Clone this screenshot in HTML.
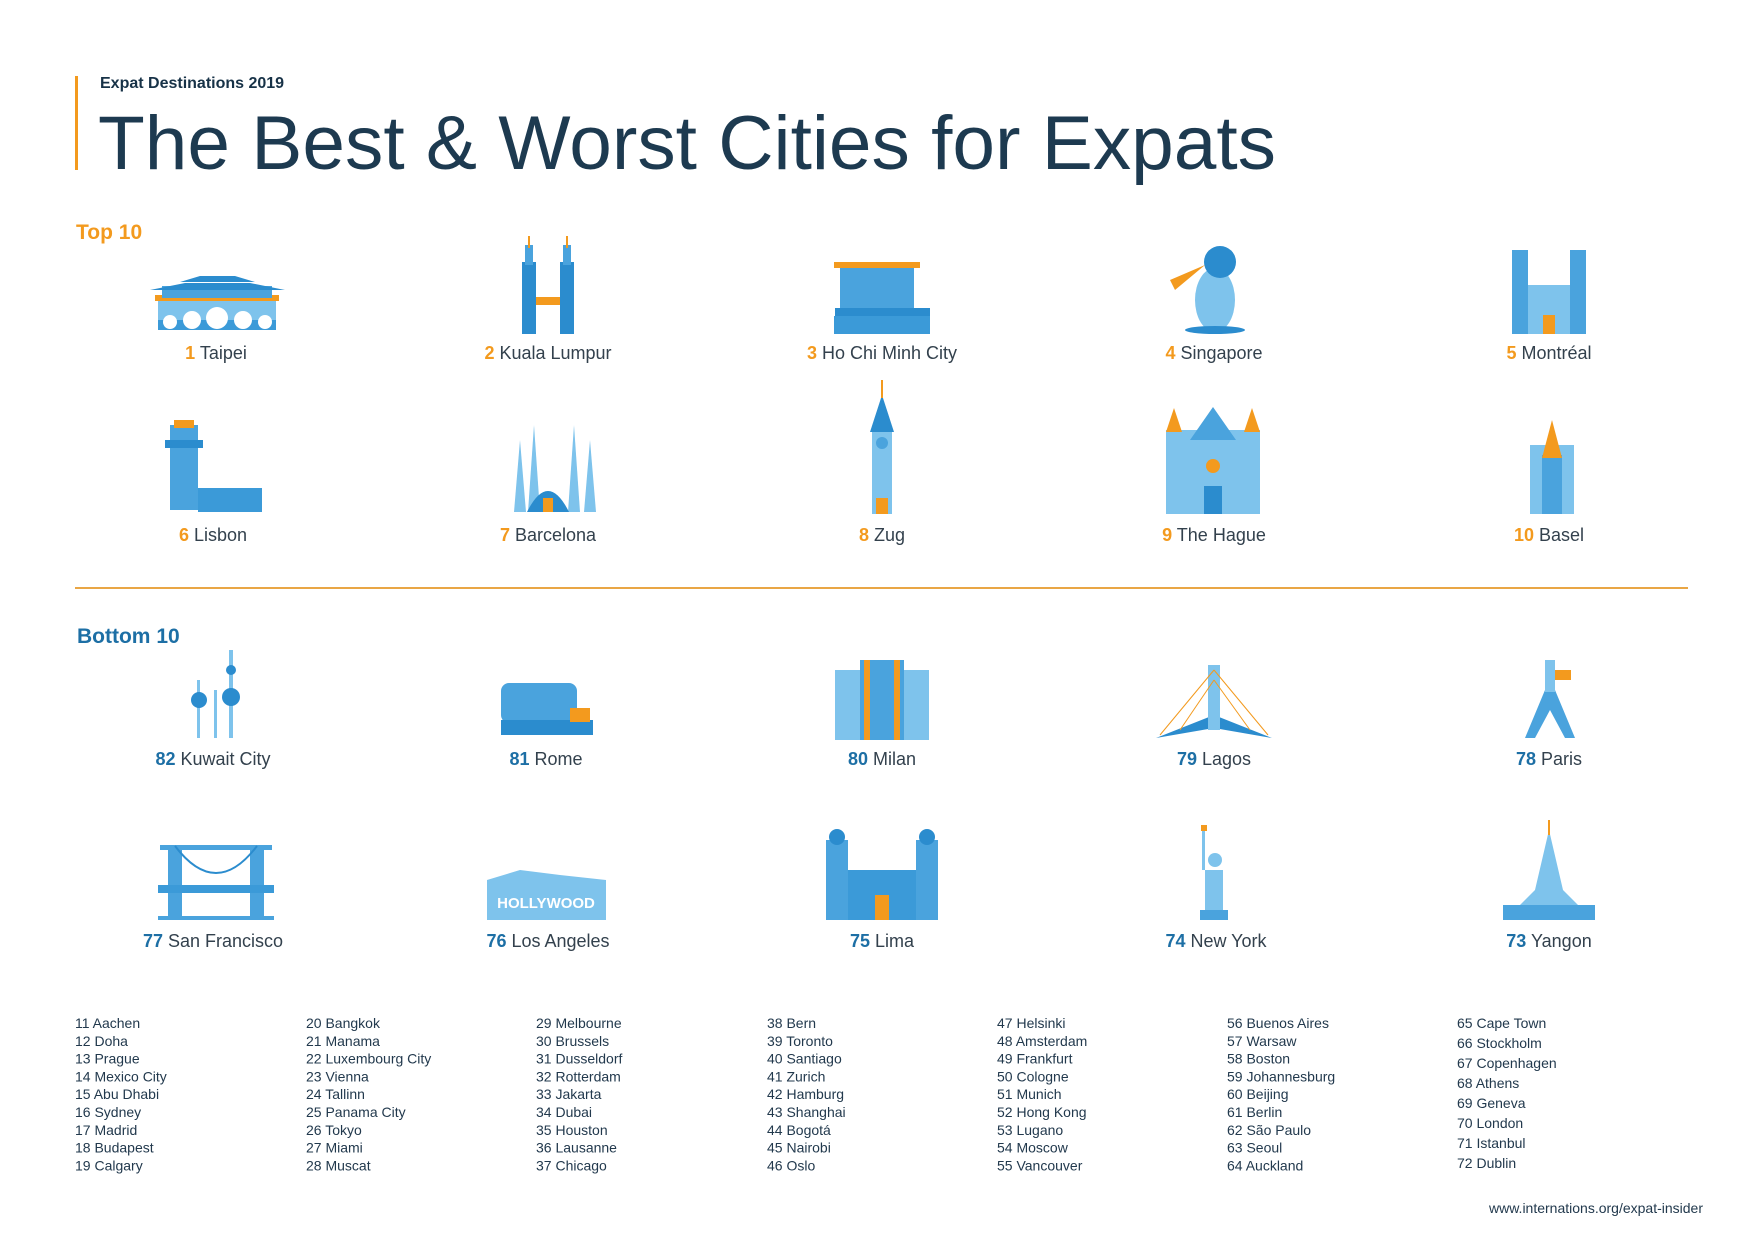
<!DOCTYPE html>
<html><head><meta charset="utf-8"><style>
html,body{margin:0;padding:0;background:#fff;}
svg{display:block;font-family:"Liberation Sans",sans-serif;}
.lab{font-size:18px;fill:#33414d;}
.nt{font-size:18px;font-weight:bold;fill:#f39a1e;}
.nb{font-size:18px;font-weight:bold;fill:#1d6fa5;}
.li{font-size:14px;fill:#22394d;}
</style></head><body>
<svg width="1754" height="1240" viewBox="0 0 1754 1240">
<rect x="0" y="0" width="1754" height="1240" fill="#fff"/>
<rect x="75" y="76" width="3" height="94" fill="#f39a1e"/>
<text x="100" y="88" font-size="16" font-weight="bold" fill="#173247">Expat Destinations 2019</text>
<text x="98" y="169" font-size="76" fill="#1d3a50" textLength="1178" lengthAdjust="spacingAndGlyphs">The Best &amp; Worst Cities for Expats</text>
<text x="76" y="239" font-size="21" font-weight="bold" fill="#f39a1e">Top 10</text>
<rect x="75" y="587" width="1613" height="2" fill="#e9a645"/>
<text x="77" y="643" font-size="21" font-weight="bold" fill="#1d6fa5">Bottom 10</text>

<!-- Icons row 1 -->
<g>
 <rect x="158" y="300" width="118" height="30" fill="#7ec3ec"/>
 <rect x="158" y="320" width="118" height="10" fill="#3b9ad8"/>
 <circle cx="170" cy="322" r="7" fill="#fff"/><circle cx="192" cy="320" r="9" fill="#fff"/><circle cx="217" cy="318" r="11" fill="#fff"/><circle cx="243" cy="320" r="9" fill="#fff"/><circle cx="265" cy="322" r="7" fill="#fff"/>
 <rect x="155" y="295" width="124" height="6" fill="#f39a1e"/>
 <rect x="162" y="286" width="110" height="12" fill="#4aa3dd"/>
 <polygon points="150,290 185,283 250,283 285,290" fill="#2b8cce"/>
 <polygon points="180,282 200,276 235,276 255,282" fill="#2b8cce"/>
 <rect x="522" y="262" width="14" height="72" fill="#2b8cce"/><rect x="560" y="262" width="14" height="72" fill="#2b8cce"/>
 <rect x="525" y="245" width="8" height="20" fill="#4aa3dd"/><rect x="563" y="245" width="8" height="20" fill="#4aa3dd"/>
 <rect x="528" y="236" width="2" height="12" fill="#f39a1e"/><rect x="566" y="236" width="2" height="12" fill="#f39a1e"/>
 <rect x="536" y="297" width="24" height="8" fill="#f39a1e"/>
 <rect x="834" y="262" width="86" height="6" fill="#f39a1e"/>
 <rect x="840" y="268" width="74" height="40" fill="#4aa3dd"/>
 <rect x="835" y="308" width="95" height="8" fill="#2b8cce"/>
 <rect x="834" y="316" width="96" height="18" fill="#3b9ad8"/>
 <ellipse cx="1215" cy="300" rx="20" ry="32" fill="#7ec3ec"/>
 <circle cx="1220" cy="262" r="16" fill="#2b8cce"/>
 <polygon points="1205,265 1170,280 1175,290" fill="#f39a1e"/>
 <ellipse cx="1215" cy="330" rx="30" ry="4" fill="#2b8cce"/>
 <rect x="1512" y="250" width="16" height="84" fill="#4aa3dd"/><rect x="1570" y="250" width="16" height="84" fill="#4aa3dd"/>
 <rect x="1528" y="285" width="42" height="49" fill="#7ec3ec"/>
 <rect x="1543" y="315" width="12" height="19" fill="#f39a1e"/>
</g>
<g>
 <rect x="170" y="425" width="28" height="85" fill="#4aa3dd"/>
 <rect x="165" y="440" width="38" height="8" fill="#2b8cce"/>
 <rect x="198" y="488" width="64" height="24" fill="#3b9ad8"/>
 <rect x="174" y="420" width="20" height="8" fill="#f39a1e"/>
 <polygon points="514,512 520,440 526,512" fill="#7ec3ec"/><polygon points="528,512 534,425 540,512" fill="#7ec3ec"/>
 <polygon points="568,512 574,425 580,512" fill="#7ec3ec"/><polygon points="584,512 590,440 596,512" fill="#7ec3ec"/>
 <path d="M527 512 Q548 470 569 512Z" fill="#2b8cce"/>
 <rect x="543" y="498" width="10" height="14" fill="#f39a1e"/>
 <rect x="872" y="430" width="20" height="84" fill="#7ec3ec"/>
 <polygon points="870,432 882,395 894,432" fill="#2b8cce"/>
 <rect x="881" y="380" width="2" height="18" fill="#f39a1e"/>
 <circle cx="882" cy="443" r="6" fill="#4aa3dd"/>
 <rect x="876" y="498" width="12" height="16" fill="#f39a1e"/>
 <rect x="1166" y="430" width="94" height="84" fill="#7ec3ec"/>
 <polygon points="1190,440 1213,407 1236,440" fill="#4aa3dd"/>
 <polygon points="1166,432 1174,408 1182,432" fill="#f39a1e"/><polygon points="1244,432 1252,408 1260,432" fill="#f39a1e"/>
 <circle cx="1213" cy="466" r="7" fill="#f39a1e"/>
 <rect x="1204" y="486" width="18" height="28" fill="#2b8cce"/>
 <rect x="1530" y="445" width="44" height="69" fill="#7ec3ec"/>
 <rect x="1542" y="455" width="20" height="59" fill="#4aa3dd"/>
 <polygon points="1542,458 1552,420 1562,458" fill="#f39a1e"/>
</g>
<g>
 <rect x="197" y="680" width="3" height="58" fill="#7ec3ec"/><rect x="214" y="690" width="3" height="48" fill="#7ec3ec"/><rect x="229" y="650" width="4" height="88" fill="#7ec3ec"/>
 <circle cx="199" cy="700" r="8" fill="#2b8cce"/><circle cx="231" cy="697" r="9" fill="#2b8cce"/><circle cx="231" cy="670" r="5" fill="#2b8cce"/>
 <rect x="501" y="683" width="76" height="40" rx="8" fill="#4aa3dd"/>
 <rect x="501" y="720" width="92" height="15" fill="#2b8cce"/>
 <rect x="570" y="708" width="20" height="14" fill="#f39a1e"/>
 <rect x="835" y="670" width="94" height="70" fill="#7ec3ec"/>
 <rect x="860" y="660" width="44" height="80" fill="#4aa3dd"/>
 <rect x="864" y="660" width="6" height="80" fill="#f39a1e"/><rect x="894" y="660" width="6" height="80" fill="#f39a1e"/>
 <polygon points="1156,738 1214,715 1272,738 1214,728" fill="#2b8cce"/>
 <rect x="1208" y="665" width="12" height="65" fill="#7ec3ec"/>
 <path d="M1214 670 L1160 735 M1214 680 L1180 730 M1214 670 L1268 735 M1214 680 L1250 730" stroke="#f39a1e" stroke-width="1"/>
 <polygon points="1525,738 1545,690 1555,690 1575,738 1565,738 1550,710 1535,738" fill="#4aa3dd"/>
 <rect x="1545" y="660" width="10" height="32" fill="#7ec3ec"/>
 <rect x="1555" y="670" width="16" height="10" fill="#f39a1e"/>
</g>
<g>
 <rect x="160" y="845" width="112" height="5" fill="#4aa3dd"/>
 <rect x="168" y="845" width="14" height="75" fill="#4aa3dd"/><rect x="250" y="845" width="14" height="75" fill="#4aa3dd"/>
 <path d="M175 846 Q216 900 257 846" stroke="#2b8cce" stroke-width="2" fill="none"/>
 <rect x="158" y="885" width="116" height="8" fill="#3b9ad8"/>
 <rect x="158" y="916" width="116" height="4" fill="#4aa3dd"/>
 <polygon points="487,880 520,870 560,875 606,880 606,920 487,920" fill="#7ec3ec"/>
 <rect x="487" y="885" width="119" height="35" fill="#7ec3ec"/>
 <text x="546" y="908" font-size="15" font-weight="bold" fill="#fff" text-anchor="middle">HOLLYWOOD</text>
 <rect x="826" y="870" width="112" height="50" fill="#3b9ad8"/>
 <rect x="826" y="840" width="22" height="80" fill="#4aa3dd"/><rect x="916" y="840" width="22" height="80" fill="#4aa3dd"/>
 <circle cx="837" cy="837" r="8" fill="#2b8cce"/><circle cx="927" cy="837" r="8" fill="#2b8cce"/>
 <rect x="875" y="895" width="14" height="25" fill="#f39a1e"/>
 <rect x="1205" y="870" width="18" height="42" fill="#7ec3ec"/>
 <rect x="1200" y="910" width="28" height="10" fill="#4aa3dd"/>
 <rect x="1202" y="830" width="3" height="40" fill="#7ec3ec"/><rect x="1201" y="825" width="6" height="6" fill="#f39a1e"/>
 <circle cx="1215" cy="860" r="7" fill="#7ec3ec"/>
 <polygon points="1505,920 1535,890 1549,830 1563,890 1593,920" fill="#7ec3ec"/>
 <rect x="1503" y="905" width="92" height="15" fill="#4aa3dd"/>
 <rect x="1548" y="820" width="2" height="15" fill="#f39a1e"/>
</g>

<text x="216" y="359" text-anchor="middle"><tspan class="nt">1</tspan><tspan class="lab">  Taipei</tspan></text>
<text x="548" y="359" text-anchor="middle"><tspan class="nt">2</tspan><tspan class="lab">  Kuala Lumpur</tspan></text>
<text x="882" y="359" text-anchor="middle"><tspan class="nt">3</tspan><tspan class="lab">  Ho Chi Minh City</tspan></text>
<text x="1214" y="359" text-anchor="middle"><tspan class="nt">4</tspan><tspan class="lab">  Singapore</tspan></text>
<text x="1549" y="359" text-anchor="middle"><tspan class="nt">5</tspan><tspan class="lab">  Montréal</tspan></text>
<text x="213" y="541" text-anchor="middle"><tspan class="nt">6</tspan><tspan class="lab">  Lisbon</tspan></text>
<text x="548" y="541" text-anchor="middle"><tspan class="nt">7</tspan><tspan class="lab">  Barcelona</tspan></text>
<text x="882" y="541" text-anchor="middle"><tspan class="nt">8</tspan><tspan class="lab">  Zug</tspan></text>
<text x="1214" y="541" text-anchor="middle"><tspan class="nt">9</tspan><tspan class="lab">  The Hague</tspan></text>
<text x="1549" y="541" text-anchor="middle"><tspan class="nt">10</tspan><tspan class="lab">  Basel</tspan></text>
<text x="213" y="765" text-anchor="middle"><tspan class="nb">82</tspan><tspan class="lab">  Kuwait City</tspan></text>
<text x="546" y="765" text-anchor="middle"><tspan class="nb">81</tspan><tspan class="lab">  Rome</tspan></text>
<text x="882" y="765" text-anchor="middle"><tspan class="nb">80</tspan><tspan class="lab">  Milan</tspan></text>
<text x="1214" y="765" text-anchor="middle"><tspan class="nb">79</tspan><tspan class="lab">  Lagos</tspan></text>
<text x="1549" y="765" text-anchor="middle"><tspan class="nb">78</tspan><tspan class="lab">  Paris</tspan></text>
<text x="213" y="947" text-anchor="middle"><tspan class="nb">77</tspan><tspan class="lab">  San Francisco</tspan></text>
<text x="548" y="947" text-anchor="middle"><tspan class="nb">76</tspan><tspan class="lab">  Los Angeles</tspan></text>
<text x="882" y="947" text-anchor="middle"><tspan class="nb">75</tspan><tspan class="lab">  Lima</tspan></text>
<text x="1216" y="947" text-anchor="middle"><tspan class="nb">74</tspan><tspan class="lab">  New York</tspan></text>
<text x="1549" y="947" text-anchor="middle"><tspan class="nb">73</tspan><tspan class="lab">  Yangon</tspan></text>

<g class="li">
<text x="75" y="1028"><tspan x="75" dy="0">11 Aachen</tspan><tspan x="75" dy="17.8">12 Doha</tspan><tspan x="75" dy="17.8">13 Prague</tspan><tspan x="75" dy="17.8">14 Mexico City</tspan><tspan x="75" dy="17.8">15 Abu Dhabi</tspan><tspan x="75" dy="17.8">16 Sydney</tspan><tspan x="75" dy="17.8">17 Madrid</tspan><tspan x="75" dy="17.8">18 Budapest</tspan><tspan x="75" dy="17.8">19 Calgary</tspan></text>
<text x="306" y="1028"><tspan x="306" dy="0">20 Bangkok</tspan><tspan x="306" dy="17.8">21 Manama</tspan><tspan x="306" dy="17.8">22 Luxembourg City</tspan><tspan x="306" dy="17.8">23 Vienna</tspan><tspan x="306" dy="17.8">24 Tallinn</tspan><tspan x="306" dy="17.8">25 Panama City</tspan><tspan x="306" dy="17.8">26 Tokyo</tspan><tspan x="306" dy="17.8">27 Miami</tspan><tspan x="306" dy="17.8">28 Muscat</tspan></text>
<text x="536" y="1028"><tspan x="536" dy="0">29 Melbourne</tspan><tspan x="536" dy="17.8">30 Brussels</tspan><tspan x="536" dy="17.8">31 Dusseldorf</tspan><tspan x="536" dy="17.8">32 Rotterdam</tspan><tspan x="536" dy="17.8">33 Jakarta</tspan><tspan x="536" dy="17.8">34 Dubai</tspan><tspan x="536" dy="17.8">35 Houston</tspan><tspan x="536" dy="17.8">36 Lausanne</tspan><tspan x="536" dy="17.8">37 Chicago</tspan></text>
<text x="767" y="1028"><tspan x="767" dy="0">38 Bern</tspan><tspan x="767" dy="17.8">39 Toronto</tspan><tspan x="767" dy="17.8">40 Santiago</tspan><tspan x="767" dy="17.8">41 Zurich</tspan><tspan x="767" dy="17.8">42 Hamburg</tspan><tspan x="767" dy="17.8">43 Shanghai</tspan><tspan x="767" dy="17.8">44 Bogotá</tspan><tspan x="767" dy="17.8">45 Nairobi</tspan><tspan x="767" dy="17.8">46 Oslo</tspan></text>
<text x="997" y="1028"><tspan x="997" dy="0">47 Helsinki</tspan><tspan x="997" dy="17.8">48 Amsterdam</tspan><tspan x="997" dy="17.8">49 Frankfurt</tspan><tspan x="997" dy="17.8">50 Cologne</tspan><tspan x="997" dy="17.8">51 Munich</tspan><tspan x="997" dy="17.8">52 Hong Kong</tspan><tspan x="997" dy="17.8">53 Lugano</tspan><tspan x="997" dy="17.8">54 Moscow</tspan><tspan x="997" dy="17.8">55 Vancouver</tspan></text>
<text x="1227" y="1028"><tspan x="1227" dy="0">56 Buenos Aires</tspan><tspan x="1227" dy="17.8">57 Warsaw</tspan><tspan x="1227" dy="17.8">58 Boston</tspan><tspan x="1227" dy="17.8">59 Johannesburg</tspan><tspan x="1227" dy="17.8">60 Beijing</tspan><tspan x="1227" dy="17.8">61 Berlin</tspan><tspan x="1227" dy="17.8">62 São Paulo</tspan><tspan x="1227" dy="17.8">63 Seoul</tspan><tspan x="1227" dy="17.8">64 Auckland</tspan></text>
<text x="1457" y="1028"><tspan x="1457" dy="0">65 Cape Town</tspan><tspan x="1457" dy="20">66 Stockholm</tspan><tspan x="1457" dy="20">67 Copenhagen</tspan><tspan x="1457" dy="20">68 Athens</tspan><tspan x="1457" dy="20">69 Geneva</tspan><tspan x="1457" dy="20">70 London</tspan><tspan x="1457" dy="20">71 Istanbul</tspan><tspan x="1457" dy="20">72 Dublin</tspan></text>
<text x="1703" y="1213" text-anchor="end">www.internations.org/expat-insider</text>
</g>
</svg>
</body></html>
